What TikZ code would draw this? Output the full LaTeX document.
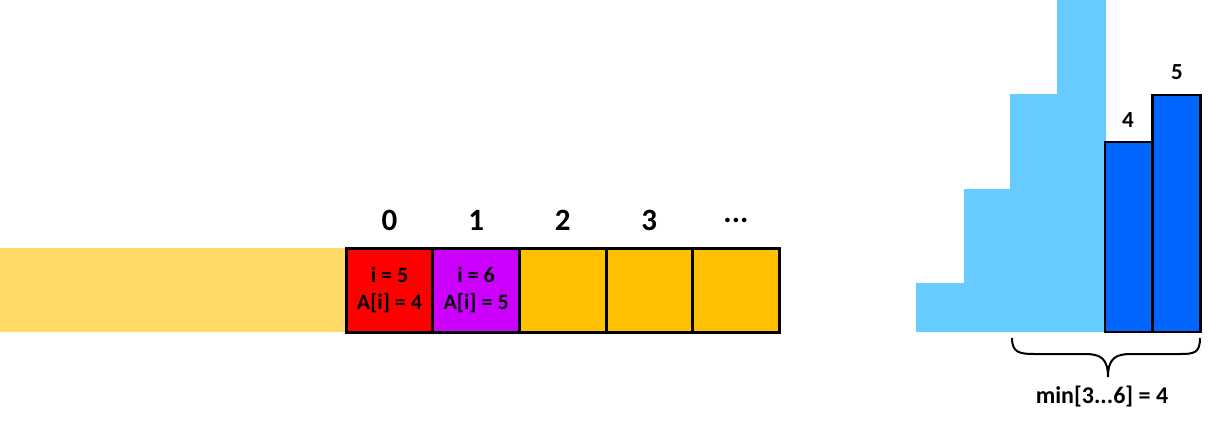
\documentclass[tikz,border=0pt]{standalone}
\usepackage{fontspec}
\setmainfont{Carlito}
\definecolor{band}{HTML}{FFD966}
\definecolor{cellred}{HTML}{FF0000}
\definecolor{cellpurple}{HTML}{CC00FF}
\definecolor{cellorange}{HTML}{FFC000}
\definecolor{lightbar}{HTML}{66CCFF}
\definecolor{darkbar}{HTML}{0066FF}
\begin{document}
\begin{tikzpicture}[x=1pt,y=-1pt,
  cellbox/.style={draw=black,line width=3pt,minimum width=86.6pt,minimum height=84pt,inner sep=0pt,
    font=\fontsize{22}{27}\selectfont\bfseries,align=center,text=black},
  idx/.style={font=\fontsize{31}{33}\selectfont\bfseries},
  barlbl/.style={font=\fontsize{23}{25}\selectfont\bfseries},
  minlbl/.style={font=\fontsize{24}{26}\selectfont\bfseries},
  darkbox/.style={draw=black,line width=2.5pt,fill=darkbar,inner sep=0pt,minimum width=48pt}
]
\useasboundingbox (0,0) rectangle (1228,424);
% band
\node[fill=band,minimum width=346pt,minimum height=84pt,inner sep=0pt] (band) at (173,290) {};
% cells
\node[cellbox,fill=cellred] (c0) at (389.5,290) {i = 5\\A[i] = 4};
\node[cellbox,fill=cellpurple] (c1) at (476.1,290) {i = 6\\A[i] = 5};
\node[cellbox,fill=cellorange] (c2) at (562.7,290) {};
\node[cellbox,fill=cellorange] (c3) at (649.3,290) {};
\node[cellbox,fill=cellorange] (c4) at (735.9,290) {};
% indices
\node[idx] (i0) at (389.5,220) {0};
\node[idx] (i1) at (476.1,220) {1};
\node[idx] (i2) at (562.7,220) {2};
\node[idx] (i3) at (649.3,220) {3};
\node[idx] (i4) at (735.9,220) {...};
% light bars
\fill[lightbar] (916,332) -- (916,283) -- (964,283) -- (964,189) -- (1010,189) -- (1010,94) -- (1057,94) -- (1057,0) -- (1106,0) -- (1106,332) -- cycle;
% dark bars
\node[darkbox,minimum height=190pt] (d1) at (1129,237) {};
\node[darkbox,minimum height=237pt] (d2) at (1176.5,213.5) {};
\node[barlbl] (l4) at (1128,120) {4};
\node[barlbl] (l5) at (1177,72) {5};
% brace
\coordinate (bl) at (1012,338);
\coordinate (br) at (1200,338);
\coordinate (bt) at (1108,377);
\draw[line width=2pt] (bl) .. controls (1012,353) and (1020,354) .. (1035,354) -- (1085,354) .. controls (1100,354) and (1108,358) .. (bt)
  .. controls (1108,358) and (1116,354) .. (1131,354) -- (1180,354) .. controls (1194,354) and (1200,353) .. (br);
\node[minlbl] (mn) at (1102,396) {min[3...6] = 4};
\end{tikzpicture}
\end{document}
